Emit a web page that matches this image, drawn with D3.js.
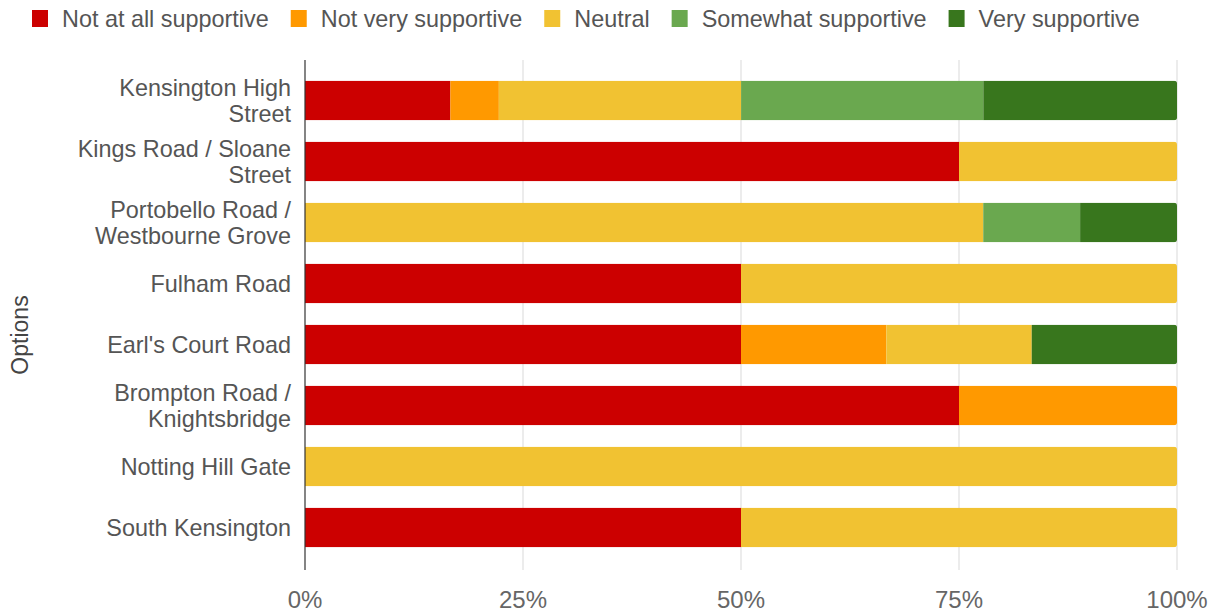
<!DOCTYPE html>
<html><head><meta charset="utf-8">
<script src="https://cdn.jsdelivr.net/npm/d3@7"></script>
<style>body{margin:0;background:#fff;}svg{display:block;font-family:"Liberation Sans",Arial,sans-serif;}</style>
</head><body><svg id="c" width="1220" height="612"></svg>
<script>
const categories = [
  ["Kensington High", "Street"],
  ["Kings Road / Sloane", "Street"],
  ["Portobello Road /", "Westbourne Grove"],
  ["Fulham Road"],
  ["Earl's Court Road"],
  ["Brompton Road /", "Knightsbridge"],
  ["Notting Hill Gate"],
  ["South Kensington"]
];
const seriesNames = ["Not at all supportive","Not very supportive","Neutral","Somewhat supportive","Very supportive"];
const seriesColors = ["#cc0000","#ff9900","#f1c232","#6aa84f","#38761d"];
// values in % per category, order as seriesNames
const notAtAll   = [16.67, 75, 0,     50, 50,    75, 0,   50];
const notVery    = [5.56,  0,  0,     0,  16.67, 25, 0,   0];
const neutral    = [27.78, 25, 77.78, 50, 16.67, 0,  100, 50];
const somewhat   = [27.78, 0,  11.11, 0,  0,     0,  0,   0];
const very       = [22.22, 0,  11.11, 0,  16.67, 0,  0,   0];
const xTicks = [0, 25, 50, 75, 100];
const axisTitle = "Options";

(function(){
const series = [notAtAll, notVery, neutral, somewhat, very];
const svg = d3.select("#c");
const pL = 305, pR = 1177, pT = 60, pB = 570;
const x = d3.scaleLinear().domain([0,100]).range([pL,pR]);
const y = d3.scaleBand().domain(d3.range(categories.length)).range([70,558]).paddingInner(0.35).paddingOuter(0.175);

// gridlines
svg.append("g").selectAll("line").data(xTicks.slice(1)).join("line")
  .attr("x1",d=>x(d)).attr("x2",d=>x(d)).attr("y1",pT).attr("y2",pB)
  .attr("stroke","#d9d9d9").attr("stroke-width",1);

// stacked bars
const defs = svg.append("defs");
const rows = categories.map((c,i)=>{ let acc=0; return series.map((s,k)=>{ const v=s[i]; const r={i,k,x0:acc,x1:acc+v}; acc+=v; return r;}).filter(r=>r.x1>r.x0);});
const g = svg.append("g");
rows.forEach((segs,i)=>{
  const total = d3.sum(segs,d=>d.x1-d.x0);
  defs.append("clipPath").attr("id","cl"+i).append("rect")
    .attr("x",x(0)-6).attr("width",x(total)-x(0)+6).attr("y",y(i)).attr("height",y.bandwidth()).attr("rx",3);
  g.append("g").attr("clip-path","url(#cl"+i+")").selectAll("rect").data(segs).join("rect")
    .attr("x",d=>x(d.x0)).attr("width",d=>x(d.x1)-x(d.x0))
    .attr("y",d=>y(d.i)).attr("height",y.bandwidth())
    .attr("fill",d=>seriesColors[d.k]);
});

// zero axis line
svg.append("line").attr("x1",pL).attr("x2",pL).attr("y1",pT).attr("y2",pB).attr("stroke","#333").attr("stroke-width",1.2);

// x tick labels
svg.append("g").selectAll("text").data(xTicks).join("text")
  .attr("x",d=>x(d)).attr("y",608).attr("text-anchor","middle")
  .attr("font-size",24).attr("fill","#666").text(d=>d+"%");

// y labels
const yl = svg.append("g");
categories.forEach((lines,i)=>{
  const cy = y(i)+y.bandwidth()/2;
  const lh = 26;
  lines.forEach((t,j)=>{
    yl.append("text").attr("x",291).attr("y",cy + (j-(lines.length-1)/2)*lh + 8)
      .attr("text-anchor","end").attr("font-size",23.4).attr("fill","#555").text(t);
  });
});

// axis title
svg.append("text").attr("transform","translate(28,335) rotate(-90)").attr("text-anchor","middle")
  .attr("font-size",23).attr("fill","#444").text(axisTitle);

// legend
const lg = svg.append("g");
let lx = 32;
seriesNames.forEach((n,k)=>{
  lg.append("rect").attr("x",lx).attr("y",10).attr("width",16).attr("height",17).attr("fill",seriesColors[k]);
  const t = lg.append("text").attr("x",lx+30).attr("y",27).attr("font-size",23.4).attr("fill","#555").text(n);
  lx += 30 + t.node().getComputedTextLength() + 22;
});
})();
</script></body></html>
